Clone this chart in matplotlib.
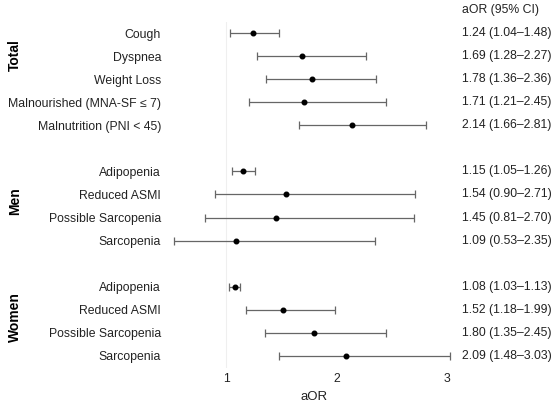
import matplotlib
matplotlib.use("Agg")
import matplotlib.pyplot as plt
import numpy as np

plt.rcParams['font.family'] = ['Liberation Sans', 'DejaVu Sans']

labels = ["Cough", "Dyspnea", "Weight Loss", "Malnourished (MNA-SF \u2264 7)", "Malnutrition (PNI < 45)",
          "Adipopenia", "Reduced ASMI", "Possible Sarcopenia", "Sarcopenia",
          "Adipopenia", "Reduced ASMI", "Possible Sarcopenia", "Sarcopenia"]
aor = [1.24, 1.69, 1.78, 1.71, 2.14, 1.15, 1.54, 1.45, 1.09, 1.08, 1.52, 1.80, 2.09]
lo = [1.04, 1.28, 1.36, 1.21, 1.66, 1.05, 0.90, 0.81, 0.53, 1.03, 1.18, 1.35, 1.48]
hi = [1.48, 2.27, 2.36, 2.45, 2.81, 1.26, 2.71, 2.70, 2.35, 1.13, 1.99, 2.45, 3.03]
groups = ["Total", "Men", "Women"]
group_sizes = [5, 4, 4]

rows = []
start = 0
group_starts = []
for n in group_sizes:
    group_starts.append(start)
    rows.extend(range(start, start + n))
    start += n + 1
rows = np.array(rows)

FS = 8.8
W, H = 558, 403
fig = plt.figure(figsize=(W / 100, H / 100), dpi=100)
ax_l, ax_r = 168, 460
ax_t, ax_b = 21.5, 367.5
ax = fig.add_axes([ax_l / W, 1 - ax_b / H, (ax_r - ax_l) / W, (ax_b - ax_t) / H])

ax.axvline(1, color='#efefef', lw=0.8, zorder=0)
aor_a = np.array(aor); lo_a = np.array(lo); hi_a = np.array(hi)
ax.errorbar(aor_a, rows, xerr=[aor_a - lo_a, hi_a - aor_a], fmt='none',
            ecolor='#666666', elinewidth=0.9, capsize=3, capthick=0.9, zorder=2)
ax.plot(aor_a, rows, 'o', color='black', ms=3.3, zorder=3)

x0 = 1 - (226 - ax_l) / 110.5
x1 = 1 + (ax_r - 226) / 110.5
ax.set_xlim(x0, x1)
ax.set_ylim(rows.max() + 0.5, -0.5)
ax.set_xticks([1, 2, 3])
ax.set_xticklabels(['1', '2', '3'], fontsize=FS, color='#222222')
ax.tick_params(axis='x', length=0, pad=4)
ax.set_yticks(rows)
ax.set_yticklabels(labels, fontsize=FS, color='#222222')
ax.tick_params(axis='y', length=0, pad=5)
ax.set_xlabel('aOR', fontsize=9.5, color='#222222', labelpad=4)
for s in ax.spines.values():
    s.set_visible(False)

for r, a, l, h in zip(rows, aor, lo, hi):
    ax.annotate(f"{a:.2f} ({l:.2f}\u2013{h:.2f})", xy=(462 / W, r),
                xycoords=('figure fraction', 'data'), fontsize=FS, color='#222222',
                va='center', ha='left')
ax.annotate("aOR (95% CI)", xy=(462 / W, -1), xycoords=('figure fraction', 'data'),
            fontsize=FS, color='#222222', va='center', ha='left', annotation_clip=False)

group_offsets = [0.95, 1.3, 1.3]
for g, s, off in zip(groups, group_starts, group_offsets):
    ax.annotate(g, xy=(15 / W, s + off), xycoords=('figure fraction', 'data'),
                fontsize=10, fontweight='bold', rotation=90, va='center', ha='center',
                color='black', annotation_clip=False)

fig.savefig('out.png', dpi=100, facecolor='white')
